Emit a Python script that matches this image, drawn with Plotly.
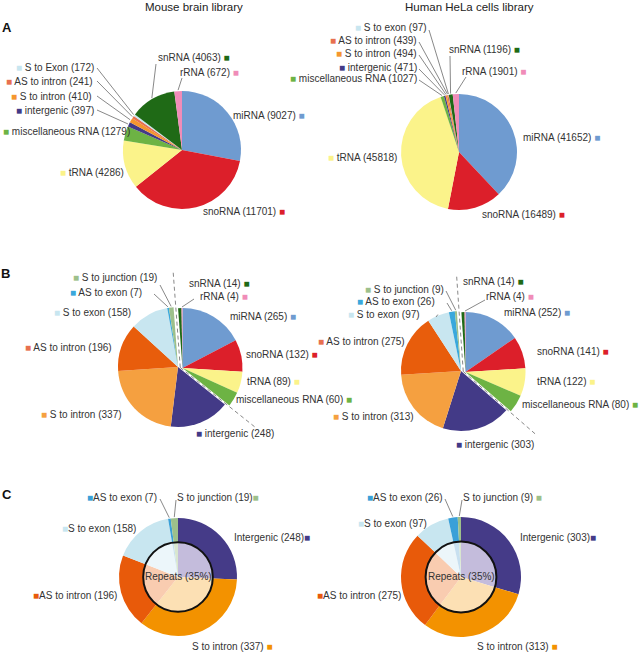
import math
import plotly.graph_objects as go

W, H = 639, 652

# ---------------- data ----------------
a_labels_mouse = ["miRNA", "snoRNA", "tRNA", "miscellaneous RNA", "intergenic",
                  "S to intron", "AS to intron", "S to Exon", "snRNA", "rRNA"]
a_labels_human = ["miRNA", "snoRNA", "tRNA", "miscellaneous RNA", "intergenic",
                  "S to intron", "AS to intron", "S to exon", "snRNA", "rRNA"]
a_mouse = [9027, 11701, 4286, 1279, 397, 410, 241, 172, 4063, 672]
a_human = [41652, 16489, 45818, 1027, 471, 494, 439, 97, 1196, 1901]

b_labels = ["miRNA", "snoRNA", "tRNA", "miscellaneous RNA", "intergenic",
            "S to intron", "AS to intron", "S to exon", "AS to exon",
            "S to junction", "snRNA", "rRNA"]
b_mouse = [265, 132, 89, 60, 248, 337, 196, 158, 7, 19, 14, 4]
b_human = [252, 141, 122, 80, 303, 313, 275, 97, 26, 9, 14, 4]
b_ncrna = ["miRNA", "snoRNA", "tRNA", "miscellaneous RNA", "snRNA", "rRNA"]

c_labels = ["Intergenic", "S to intron", "AS to intron", "S to exon",
            "AS to exon", "S to junction"]
c_mouse = [248, 337, 196, 158, 7, 19]
c_human = [303, 313, 275, 97, 26, 9]
repeats_pct = [35, 35]

titles = ["Mouse brain library", "Human HeLa cells library"]

# ---------------- styles ----------------
col_a = {"miRNA": "#6f9bd0", "snoRNA": "#dc1f2a", "tRNA": "#fbf38a",
         "miscellaneous RNA": "#6db344", "intergenic": "#433a87",
         "S to intron": "#f5962e", "AS to intron": "#e8704f",
         "S to Exon": "#c8e6f0", "S to exon": "#c8e6f0",
         "snRNA": "#1f6a16", "rRNA": "#f08cb8"}
col_b = {"miRNA": "#6f9bd0", "snoRNA": "#dc1f2a", "tRNA": "#fbf38a",
         "miscellaneous RNA": "#6db344", "intergenic": "#433a87",
         "S to intron": "#f5a040", "AS to intron": "#e85d0c",
         "S to exon": "#c8e6f0", "AS to exon": "#3aa8dc",
         "S to junction": "#9dc08b", "snRNA": "#1f6a16", "rRNA": "#f08cb8"}
sq_b = dict(col_b, **{"AS to intron": "#e8704f"})
col_c = {"Intergenic": "#453b88", "S to intron": "#f39200", "AS to intron": "#e85a0a",
         "S to exon": "#c8e6f0", "AS to exon": "#3aa0d8", "S to junction": "#9dc08b"}
pale_c = {"Intergenic": "#c4bcdc", "S to intron": "#fce0b4", "AS to intron": "#f9ccb0",
          "S to exon": "#ecf6fa", "AS to exon": "#c8e0f0", "S to junction": "#d8e6cf"}

FONT = "Liberation Sans, Arial, sans-serif"
TXT = "#333333"
LINE = "#6a6a6a"

fig = go.Figure()
annotations = []
shapes = []


def px(x):
    return x / W


def py(y):
    return 1 - y / H


def dom(cx, cy, r):
    return dict(x=[px(cx - r), px(cx + r)], y=[py(cy + r), py(cy - r)])


def mid_angle(vals, i):
    tot = sum(vals)
    return 360.0 * (sum(vals[:i]) + vals[i] / 2.0) / tot


def bound_angle(vals, i):
    return 360.0 * sum(vals[:i]) / sum(vals)


def polar(cx, cy, r, ang):
    t = math.radians(ang)
    return cx + r * math.sin(t), cy - r * math.cos(t)


def add_pie(vals, colors, cx, cy, r, hole=0):
    fig.add_trace(go.Pie(values=vals, sort=False, direction="clockwise",
                         rotation=0, textinfo="none", hoverinfo="skip",
                         hole=hole, showlegend=False,
                         marker=dict(colors=colors, line=dict(width=0)),
                         domain=dom(cx, cy, r)))


def label(text, color, x, y, side, gap=" "):
    sq = f"<span style='color:{color}'>■</span>"
    if side == "L":
        t = sq + gap + text
        xa = "right"
        x = x + 2
    else:
        t = text + gap + sq
        xa = "left"
        x = x - 2
    annotations.append(dict(text=t, x=px(x), y=py(y), xref="paper", yref="paper",
                            xanchor=xa, yanchor="middle", showarrow=False,
                            font=dict(family=FONT, size=10, color=TXT)))


def leader(x0, y0, x1, y1, dash="solid"):
    shapes.append(dict(type="line", xref="paper", yref="paper",
                       x0=px(x0), y0=py(y0), x1=px(x1), y1=py(y1),
                       line=dict(color=LINE, width=0.8, dash=dash)))


# ---------------- titles and letters ----------------
for t, x in zip(titles, [194, 469]):
    annotations.append(dict(text=t, x=px(x), y=py(7), xref="paper", yref="paper",
                            xanchor="center", yanchor="middle", showarrow=False,
                            font=dict(family=FONT, size=11.5, color="#222")))
for t, x, y in [("A", 7, 28), ("B", 5, 273), ("C", 7, 495)]:
    annotations.append(dict(text=f"<b>{t}</b>", x=px(x), y=py(y), xref="paper",
                            yref="paper", xanchor="center", yanchor="middle",
                            showarrow=False, font=dict(family=FONT, size=13, color="#111")))

# ---------------- panel A ----------------
panelA = [
    (a_labels_mouse, a_mouse, 182, 150, 59, {
        "miRNA": ("R", 233, 116), "snoRNA": ("R", 203, 211), "tRNA": ("L", 124, 172),
        "miscellaneous RNA": ("L", 130, 131), "intergenic": ("L", 94, 110),
        "S to intron": ("L", 92, 96), "AS to intron": ("L", 93, 81),
        "S to Exon": ("L", 94, 68), "snRNA": ("R", 158, 57), "rRNA": ("R", 180, 72)},
     {"intergenic": (97, 110), "S to intron": (97, 96), "AS to intron": (97, 81),
      "S to Exon": (97, 68), "snRNA": (156, 64), "rRNA": (182, 78)}),
    (a_labels_human, a_human, 459, 152, 58, {
        "miRNA": ("R", 523, 137), "snoRNA": ("R", 482, 214), "tRNA": ("L", 397, 158),
        "miscellaneous RNA": ("L", 417, 79), "intergenic": ("L", 417, 68),
        "S to intron": ("L", 417, 54), "AS to intron": ("L", 417, 41),
        "S to exon": ("L", 427, 28), "snRNA": ("R", 449, 49), "rRNA": ("R", 462, 71)},
     {"miscellaneous RNA": (419, 80), "intergenic": (419, 69), "S to intron": (419, 55),
      "AS to intron": (419, 42), "S to exon": (429, 30), "snRNA": (450, 56),
      "rRNA": (466, 77)}),
]
for labs, vals, cx, cy, r, pos, leads in panelA:
    add_pie(vals, [col_a[l] for l in labs], cx, cy, r)
    for i, l in enumerate(labs):
        side, x, y = pos[l]
        label(f"{l} ({vals[i]})", col_a[l], x, y, side)
        if l in leads:
            tx, ty = polar(cx, cy, r + 1, mid_angle(vals, i))
            leader(leads[l][0], leads[l][1], tx, ty)

# ---------------- panel B ----------------
panelB = [
    (b_mouse, 178, 367, 60, (4.5, 1.0), {
        "miRNA": ("R", 230, 316), "snoRNA": ("R", 246, 354), "tRNA": ("R", 247, 381),
        "miscellaneous RNA": ("R", 236, 399), "intergenic": ("L", 274, 433),
        "S to intron": ("L", 122, 414), "AS to intron": ("L", 112, 347),
        "S to exon": ("L", 131, 312), "AS to exon": ("L", 142, 292),
        "S to junction": ("L", 157, 277), "snRNA": ("R", 189, 284), "rRNA": ("R", 200, 296)},
     {"S to junction": (160, 285), "AS to exon": (154, 294), "rRNA": (194, 299)}),
    (b_human, 461, 371, 60, (4.5, 1.0), {
        "miRNA": ("R", 504, 312), "snoRNA": ("R", 537, 351), "tRNA": ("R", 537, 381),
        "miscellaneous RNA": ("R", 522, 404), "intergenic": ("L", 534, 445),
        "S to intron": ("L", 414, 416), "AS to intron": ("L", 405, 341),
        "S to exon": ("L", 420, 314), "AS to exon": ("L", 435, 301),
        "S to junction": ("L", 444, 289), "snRNA": ("R", 463, 281), "rRNA": ("R", 486, 297)},
     {"S to junction": (446, 291), "AS to exon": (447, 303), "S to exon": (436, 317),
      "rRNA": (485, 300)}),
]
for vals, cx, cy, r, (dx, dy), pos, leads in panelB:
    gen_cols = [("rgba(0,0,0,0)" if l in b_ncrna else col_b[l]) for l in b_labels]
    nc_cols = [(col_b[l] if l in b_ncrna else "rgba(0,0,0,0)") for l in b_labels]
    add_pie(vals, gen_cols, cx, cy, r)
    add_pie(vals, nc_cols, cx + dx, cy + dy, r)
    for i, l in enumerate(b_labels):
        side, x, y = pos[l]
        label(f"{l} ({vals[i]})", sq_b[l], x, y, side)
        if l in leads:
            if l in b_ncrna:
                tx, ty = polar(cx + dx, cy + dy, r + 1, mid_angle(vals, i))
            else:
                tx, ty = polar(cx, cy, r + 1, mid_angle(vals, i))
            leader(leads[l][0], leads[l][1], tx, ty)
    # dashed separators along the boundaries of the pulled ncRNA group
    for bi in [b_labels.index("snRNA"), b_labels.index("intergenic")]:
        ang = bound_angle(vals, bi)
        x0, y0 = cx + dx / 2, cy + dy / 2
        x1, y1 = polar(x0, y0, r + 38, ang)
        leader(x0, y0, x1, y1, dash="4px,3px")

# ---------------- panel C ----------------
panelC = [
    (c_mouse, 178, 577, 59, 0, {
        "Intergenic": ("R", 234, 537, ""), "S to intron": ("R", 192, 646, " "),
        "AS to intron": ("L", 117, 595, ""), "S to exon": ("L", 136, 528, ""),
        "AS to exon": ("L", 157, 497, ""), "S to junction": ("R", 177, 497, "")},
     {"AS to exon": (160, 499), "S to junction": (176, 500)}),
    (c_human, 461, 577, 60, 1, {
        "Intergenic": ("R", 520, 537, ""), "S to intron": ("R", 477, 646, " "),
        "AS to intron": ("L", 401, 595, ""), "S to exon": ("L", 427, 523, ""),
        "AS to exon": ("L", 443, 497, ""), "S to junction": ("R", 463, 497, " ")},
     {"AS to exon": (445, 499), "S to junction": (462, 500)}),
]
HOLE = 0.59
for vals, cx, cy, r, k, pos, leads in panelC:
    add_pie(vals, [col_c[l] for l in c_labels], cx, cy, r, hole=HOLE)
    ri = r * HOLE
    add_pie(vals, [pale_c[l] for l in c_labels], cx, cy, ri)
    shapes.append(dict(type="circle", xref="paper", yref="paper",
                       x0=px(cx - ri), x1=px(cx + ri), y0=py(cy + ri), y1=py(cy - ri),
                       line=dict(color="#111", width=2)))
    annotations.append(dict(text=f"Repeats ({repeats_pct[k]}%)", x=px(cx), y=py(cy - 1),
                            xref="paper", yref="paper", xanchor="center",
                            yanchor="middle", showarrow=False,
                            font=dict(family=FONT, size=10, color=TXT)))
    for i, l in enumerate(c_labels):
        side, x, y, g = pos[l]
        label(f"{l} ({vals[i]})", col_c[l], x, y, side, gap=g)
        if l in leads:
            tx, ty = polar(cx, cy, r + 1, mid_angle(vals, i))
            leader(leads[l][0], leads[l][1], tx, ty)

fig.update_layout(width=W, height=H, autosize=False,
                  margin=dict(l=0, r=0, t=0, b=0),
                  paper_bgcolor="white", plot_bgcolor="white",
                  annotations=annotations, shapes=shapes,
                  font=dict(family=FONT, color=TXT))
fig.write_html("out.html", config={"displayModeBar": False},
               post_script="document.body.style.margin='0';document.body.style.overflow='hidden';")
